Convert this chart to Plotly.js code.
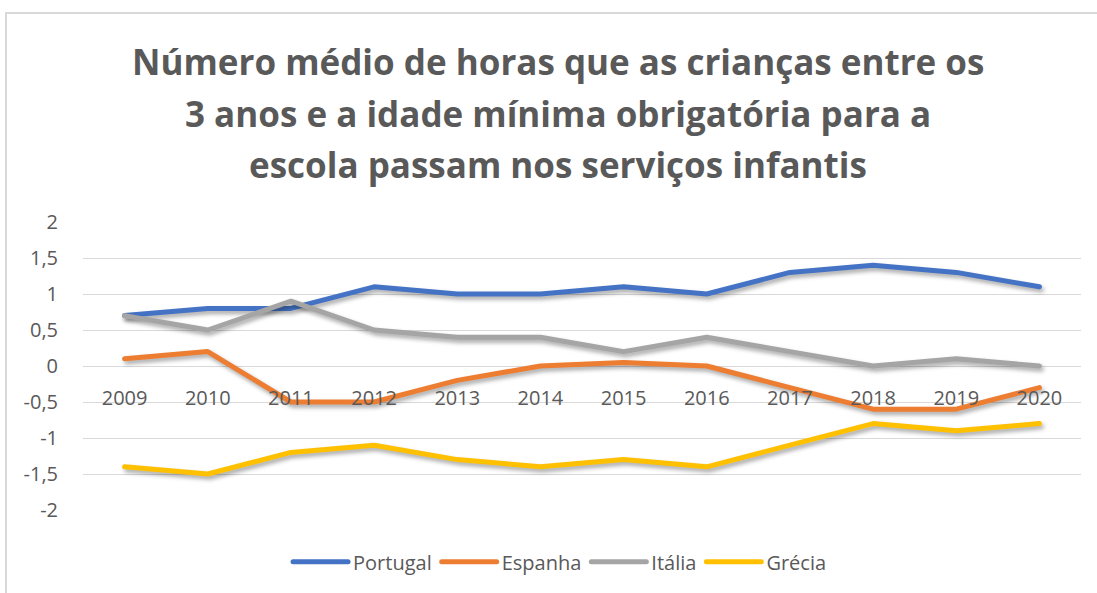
<!DOCTYPE html>
<html>
<head>
<meta charset="utf-8">
<script src="https://cdn.plot.ly/plotly-3.0.1.min.js"></script>
<style>
  html, body { margin: 0; padding: 0; background: #ffffff; overflow: hidden; }
  #chart { width: 1097px; height: 593px; position: relative; }
  #frame { position: absolute; left: 5px; top: 12px; width: 2000px; height: 2000px;
           border: 2px solid #d9d9d9; pointer-events: none; box-sizing: border-box; }
  .scatterlayer .js-line { filter: drop-shadow(2px 3px 2px rgba(0,0,0,0.35)); stroke-linecap: round; stroke-linejoin: round; }
  .legend .js-line { stroke-linecap: round; }
</style>
</head>
<body>
<div id="chart"></div>
<div id="frame"></div>
<script>
const years = ['2009','2010','2011','2012','2013','2014','2015','2016','2017','2018','2019','2020'];
const portugal = [0.7, 0.8, 0.8, 1.1, 1.0, 1.0, 1.1, 1.0, 1.3, 1.4, 1.3, 1.1];
const espanha  = [0.1, 0.2, -0.5, -0.5, -0.2, 0.0, 0.05, 0.0, -0.3, -0.6, -0.6, -0.3];
const italia   = [0.7, 0.5, 0.9, 0.5, 0.4, 0.4, 0.2, 0.4, 0.2, 0.0, 0.1, 0.0];
const grecia   = [-1.4, -1.5, -1.2, -1.1, -1.3, -1.4, -1.3, -1.4, -1.1, -0.8, -0.9, -0.8];
const yTicks = [2, 1.5, 1, 0.5, 0, -0.5, -1, -1.5, -2];
const yTickText = ['2', '1,5', '1', '0,5', '0', '-0,5', '-1', '-1,5', '-2'];
const titleLines = [
  'Número médio de horas que as crianças entre os',
  '3 anos e a idade mínima obrigatória para a',
  'escola passam nos serviços infantis'
];

const font = 'Open Sans, sans-serif';
const grey = '#595959';

function tr(name, y, color) {
  return { type: 'scatter', mode: 'lines', name: name, x: years, y: y,
           line: { color: color, width: 5 }, hoverinfo: 'skip' };
}

const data = [
  tr('Portugal', portugal, '#4472C4'),
  tr('Espanha', espanha, '#ED7D31'),
  tr('Itália', italia, '#A5A5A5'),
  tr('Grécia', grecia, '#FFC000')
];

const titleY = [1.5566, 1.377, 1.198];
const annotations = titleLines.map((t, i) => ({
  text: '<b>' + t + '</b>', xref: 'paper', yref: 'paper', x: 0.4755, y: titleY[i],
  xanchor: 'center', yanchor: 'middle', showarrow: false,
  font: { family: font, size: 35, color: grey }
}));

const layout = {
  width: 1097, height: 593,
  margin: { l: 83, r: 16, t: 222, b: 83 },
  paper_bgcolor: '#ffffff', plot_bgcolor: '#ffffff',
  showlegend: true,
  legend: { orientation: 'h', x: 0.478, xanchor: 'center', y: -0.18, yanchor: 'middle',
            font: { family: font, size: 20, color: grey }, itemwidth: 55, traceorder: 'normal' },
  xaxis: { type: 'category', range: [-0.5, 11.5], anchor: 'free', position: 0.5, showgrid: false, zeroline: false,
           showline: false, ticks: 'outside', ticklen: 14, tickcolor: 'rgba(0,0,0,0)',
           tickfont: { family: font, size: 20, color: grey }, fixedrange: true },
  yaxis: { range: [-2, 2], tickvals: yTicks, ticktext: yTickText, showgrid: true,
           gridcolor: '#d9d9d9', gridwidth: 1, zeroline: false, showline: false,
           ticks: 'outside', ticklen: 20, tickcolor: 'rgba(0,0,0,0)',
           tickfont: { family: font, size: 20, color: grey }, fixedrange: true },
  annotations: annotations
};

Plotly.newPlot('chart', data, layout, { displayModeBar: false, staticPlot: true });
</script>
</body>
</html>
